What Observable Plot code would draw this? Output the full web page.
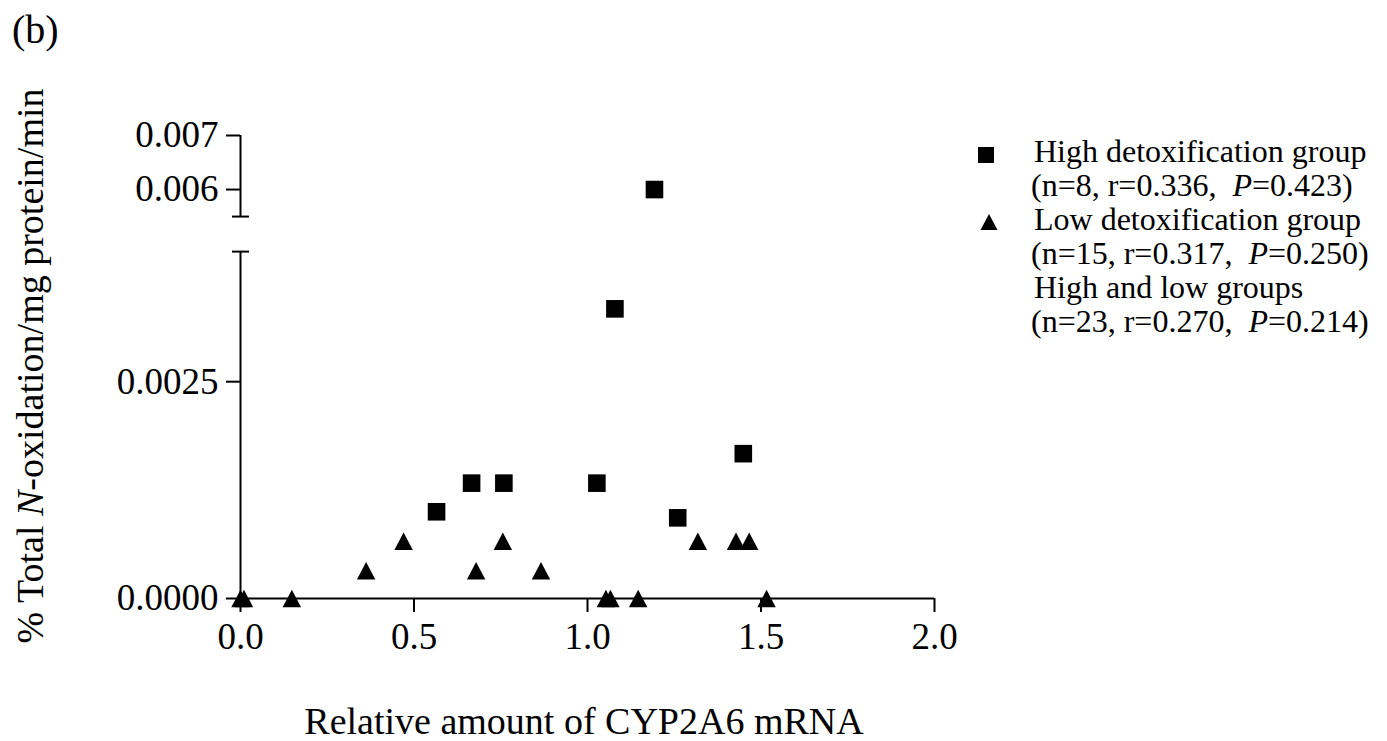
<!DOCTYPE html>
<html>
<head>
<meta charset="utf-8">
<script src="https://cdn.jsdelivr.net/npm/d3@7"></script>
<script src="https://cdn.jsdelivr.net/npm/@observablehq/plot@0.6"></script>
<style>
  html, body { margin: 0; padding: 0; background: #fff; }
  #chart { width: 1387px; height: 741px; }
</style>
</head>
<body>
<div id="chart"></div>
<script>
// ---------------- data ----------------
const highX = [0.565, 0.666, 0.759, 1.027, 1.079, 1.193, 1.260, 1.449];
const highY = [0.00100, 0.00133, 0.00133, 0.00133, 0.00334, 0.00600, 0.00093, 0.00167];

const lowX = [0.00, 0.01, 0.148, 0.362, 0.470, 0.679, 0.756, 0.866, 1.053, 1.066, 1.146, 1.318, 1.428, 1.466, 1.516];
const lowY = [0, 0, 0, 0.00032, 0.00066, 0.00032, 0.00066, 0.00032, 0, 0, 0, 0.00066, 0.00066, 0.00066, 0];

const xTicks = [0, 0.5, 1.0, 1.5, 2.0];
const xTickLabels = ["0.0", "0.5", "1.0", "1.5", "2.0"];
const yTicks = [0, 0.0025, 0.006, 0.007];
const yTickLabels = ["0.0000", "0.0025", "0.006", "0.007"];
const yLowerSegment = [0, 0.004];
const yUpperSegment = [0.0055, 0.007];

const legendLines = [
  ["High detoxification group"],
  ["(n=8, r=0.336,\u00A0 ", "P", "=0.423)"],
  ["Low detoxification group"],
  ["(n=15, r=0.317,\u00A0 ", "P", "=0.250)"],
  ["High and low groups"],
  ["(n=23, r=0.270,\u00A0 ", "P", "=0.214)"]
];
const xTitle = "Relative amount of CYP2A6 mRNA";
const yTitleParts = ["% Total ", "N", "-oxidation/mg protein/min"];
const panelLabel = "(b)";

// ---------------- broken y axis mapping ----------------
// upper segment is drawn compressed (54 px per 0.001 vs ~86.7 px per 0.001 below)
const upperRatio = 0.6232;   // compression of the upper segment
const gapUnits = 0.000404;   // visual gap between the two segments
function brk(v) {
  if (v <= yLowerSegment[1]) return v;
  return yLowerSegment[1] + gapUnits + (v - yUpperSegment[0]) * upperRatio;
}

const high = highX.map((x, i) => ({x, y: highY[i]}));
const low = lowX.map((x, i) => ({x, y: lowY[i]}));
const segments = [
  {y1: yLowerSegment[0], y2: yLowerSegment[1]},
  {y1: yUpperSegment[0], y2: yUpperSegment[1]}
];
const breaks = [yLowerSegment[1], yUpperSegment[0]];
const yTickPos = yTicks.map(brk);

const squareSym = {draw(ctx, size) { const r = Math.sqrt(size / Math.PI); ctx.rect(-r, -r, 2 * r, 2 * r); }};
const triSym = {draw(ctx, size) { const r = Math.sqrt(size / Math.PI); ctx.moveTo(0, -r); ctx.lineTo(1.06 * r, r); ctx.lineTo(-1.06 * r, r); ctx.closePath(); }};
const capSym = {draw(ctx, size) { const r = Math.sqrt(size / Math.PI); ctx.moveTo(-r, 0); ctx.lineTo(r, 0); }};

const FONT = "'Liberation Serif', 'Times New Roman', serif";

const plot = Plot.plot({
  width: 1387,
  height: 741,
  marginLeft: 240,
  marginRight: 453,
  marginTop: 135,
  marginBottom: 143,
  style: {fontFamily: FONT, background: "white", color: "black", overflow: "visible"},
  x: {domain: [0, 2]},
  y: {domain: [0, brk(yUpperSegment[1])]},
  marks: [
    Plot.axisX({ticks: xTicks, tickFormat: d => xTickLabels[xTicks.indexOf(d)], tickSize: 14, tickPadding: 10,
      fontSize: 37, strokeWidth: 2, label: null}),
    Plot.axisY({ticks: yTickPos, tickFormat: d => yTickLabels[yTickPos.indexOf(d)], tickSize: 14, tickPadding: 8,
      fontSize: 37, strokeWidth: 2, label: null}),
    Plot.ruleY([0], {stroke: "black", strokeWidth: 2}),
    Plot.ruleX(segments, {x: () => 0, y1: d => brk(d.y1), y2: d => brk(d.y2), stroke: "black", strokeWidth: 2}),
    Plot.dot(breaks, {x: () => 0, y: d => brk(d), symbol: capSym, r: 8.5, stroke: "black", strokeWidth: 2, fill: "none"}),
    Plot.dot(low, {x: "x", y: d => brk(d.y), symbol: triSym, r: 8.7, fill: "black", stroke: "none"}),
    Plot.dot(high, {x: "x", y: d => brk(d.y), symbol: squareSym, r: 8.8, fill: "black", stroke: "none"})
  ]
});

document.getElementById("chart").appendChild(plot);

const svg = d3.select(plot);

// panel label
svg.append("text").attr("x", 12).attr("y", 43).attr("text-anchor", "start")
  .style("font-family", FONT).style("font-size", "40px").attr("fill", "black").text(panelLabel);

// x title
svg.append("text").attr("x", 584).attr("y", 734).attr("text-anchor", "middle")
  .style("font-family", FONT).style("font-size", "38px").attr("fill", "black").text(xTitle);

// y title
const yt = svg.append("text").attr("transform", "translate(43,366) rotate(-90)").attr("text-anchor", "middle")
  .style("font-family", FONT).style("font-size", "38px").attr("fill", "black");
yt.append("tspan").text(yTitleParts[0]);
yt.append("tspan").style("font-style", "italic").text(yTitleParts[1]);
yt.append("tspan").text(yTitleParts[2]);

// legend
const lg = svg.append("g").style("font-family", FONT).style("font-size", "32px").attr("fill", "black");
legendLines.forEach((parts, i) => {
  const t = lg.append("text").attr("text-anchor", "start")
    .attr("x", i === 0 || i === 2 || i === 4 ? 1034 : 1031).attr("y", 161.7 + i * 34);
  parts.forEach((p, j) => {
    const ts = t.append("tspan").text(p);
    if (j === 1) ts.style("font-style", "italic");
  });
});
lg.append("rect").attr("x", 978).attr("y", 147).attr("width", 16).attr("height", 16).attr("fill", "black");
lg.append("path").attr("d", "M989,214 L997.5,230 L980.5,230 Z").attr("fill", "black");
</script>
</body>
</html>
